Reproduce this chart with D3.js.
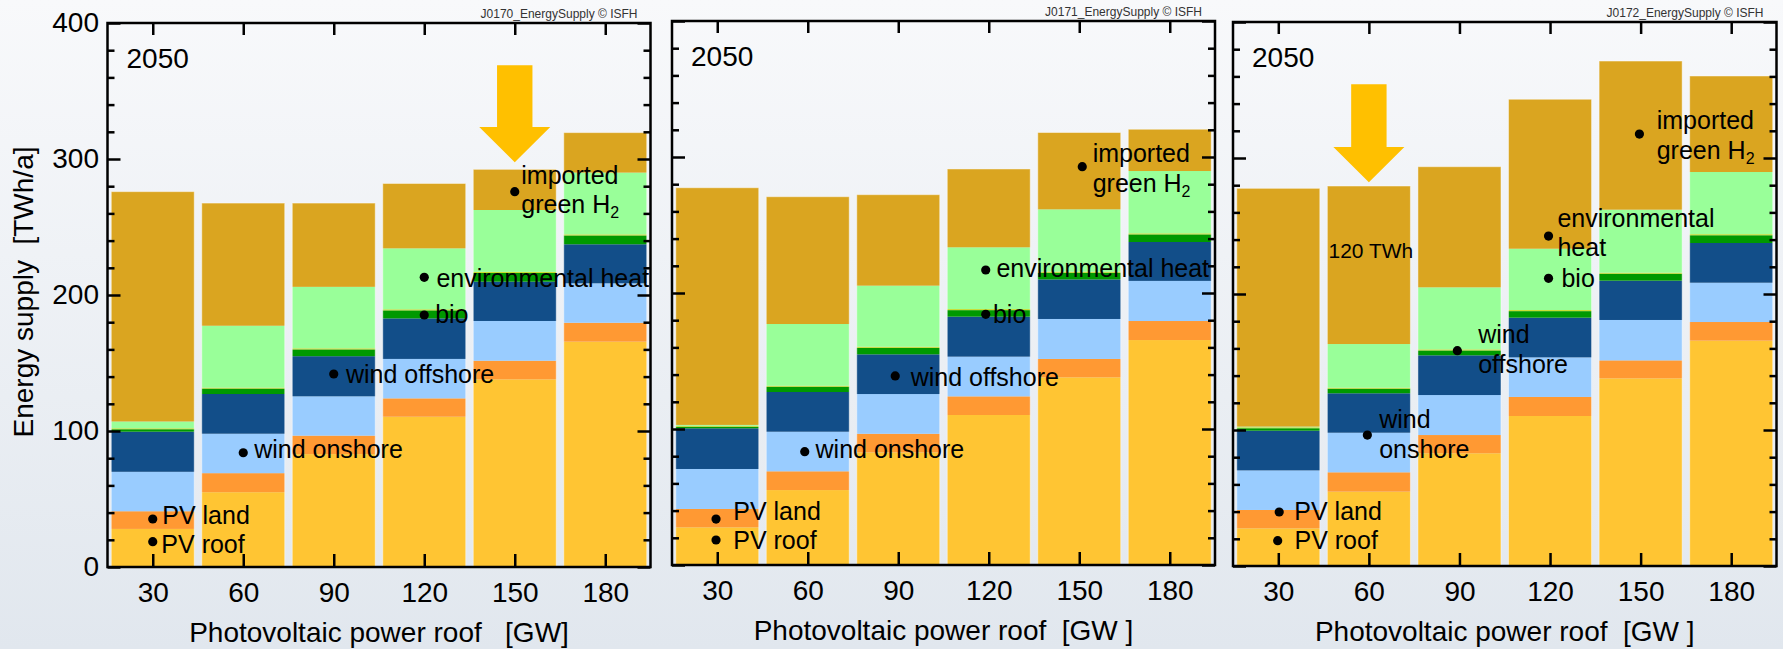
<!DOCTYPE html>
<html><head><meta charset="utf-8">
<script src="https://cdn.jsdelivr.net/npm/d3@7"></script>
<style>
html,body{margin:0;padding:0;background:#eef1f5;}
body{width:1783px;height:649px;overflow:hidden;}
svg text{font-family:"Liberation Sans",Arial,Helvetica,sans-serif;white-space:pre;}
</style></head><body>
<svg id="chart" width="1783" height="649"></svg>
<script>
// ---------------- data ----------------
const categories = [30, 60, 90, 120, 150, 180];          // PV power roof [GW]
const yMajorTicks = [0, 100, 200, 300, 400];
const yMinorTicks = d3.range(0, 401, 20);
const seriesKeys = ["pvRoof","pvLand","windOnshore","windOffshore","bio","otherRe","envHeat","importedH2"];
const seriesColors = ["#FFC533","#FF9933","#99CCFF","#124E89","#009900","#C8DC2C","#99FF99","#DAA520"];
const panelIds = ["J0170_EnergySupply \u00A9 ISFH","J0171_EnergySupply \u00A9 ISFH","J0172_EnergySupply \u00A9 ISFH"];
const yearLabel = "2050";
const xTitles = ["Photovoltaic power roof   [GW]","Photovoltaic power roof  [GW ]","Photovoltaic power roof  [GW ]"];
const yTitle = "Energy supply  [TWh/a]";

// values per panel (TWh/a), one inner array per panel, one value per category
const pvRoof      = [[28,55,83,110.5,138,165.7],[27.7,55.1,82.8,110.3,138,165.4],[27.7,54.7,82.9,110.3,138,165.7]];
const pvLand      = [[13,14,13.6,13.5,13.7,13.9],[13.5,13.8,13.7,13.7,13.5,14],[13.5,14.2,13.4,14,13.2,13.7]];
const windOnshore = [[29,29,28.9,29,29.2,29],[29.4,29.1,29.2,29.2,29.4,29.5],[29.1,29.1,29.4,29.1,29.7,28.9]];
const windOffshore= [[29.5,29.2,29.5,29.8,28.9,28.7],[29.9,29.2,29.2,29.4,29.1,28.6],[29.2,29,29.2,29.2,28.9,29.2]];
const bio         = [[1.8,4.0,5.0,5.9,6.4,6.5],[1.2,3.9,4.8,4.8,4.9,5.6],[1.8,3.4,3.6,4.8,5.1,5.7]];
const otherRe     = [[0.7,0.7,0.8,0.8,0.8,0.8],[0.7,0.7,0.8,0.8,0.8,0.8],[0.7,0.7,0.8,0.8,0.8,0.8]];
const envHeat     = [[5,45.5,45.2,44.8,45.5,45.4],[0.6,45.4,44.9,45.4,45.8,45.8],[0.5,32.1,45.6,45.1,46.3,45.7]];
const importedH2  = [[169,90.2,61.6,47.7,29.9,29.4],[174.4,93.6,66.9,57.6,56.5,30.7],[175.2,116.2,88.7,109.9,109.3,70.6]];

// annotation points (data coords) and label text
const labelsP1 = [
  {x:150, y:276,   lines:["imported","green H|2"]},
  {x:120, y:213,   lines:["environmental heat"]},
  {x:120, y:185.3, lines:["bio"]},
  {x:90,  y:141.9, lines:["wind offshore"]},
  {x:60,  y:84,    lines:["wind onshore"]},
  {x:30,  y:35.3,  lines:["PV land"]},
  {x:30,  y:18.6,  lines:["PV roof"]}
];
const labelsP2 = [
  {x:151, y:292.9, lines:["imported","green H|2"]},
  {x:119, y:216.9, lines:["environmental heat"]},
  {x:119, y:184.3, lines:["bio"]},
  {x:89,  y:139,   lines:["wind offshore"]},
  {x:59,  y:83.3,  lines:["wind onshore"]},
  {x:29.6,y:33.8,  lines:["PV land"]},
  {x:29.6,y:18.4,  lines:["PV roof"]}
];
const labelsP3 = [
  {x:149.6, y:317.6, lines:["imported","green H|2"]},
  {x:119.5, y:242.6, lines:["environmental","heat"]},
  {x:119.5, y:211.5, lines:["bio"]},
  {x:89.3,  y:158.3, lines:["wind","offshore"]},
  {x:59.5,  y:96.3,  lines:["wind","onshore"]},
  {x:30.3,  y:39.7,  lines:["PV land"]},
  {x:29.8,  y:18.6,  lines:["PV roof"]}
];
const noteP3 = {x:60, y:226.3, text:"120 TWh"};
// highlight arrows: category, tip value, tail value
const arrows = [{panel:0, x:150, tip:297.6, tail:369}, {panel:2, x:60, tip:282.1, tail:354.2}];

// ---------------- layout (pixels) ----------------
const panels = [
  {left:107.5, right:650.5, top:23, bottom:567},
  {left:672,   right:1215,  top:21, bottom:565},
  {left:1233,  right:1776.5,top:22, bottom:566}
];
// text offsets of labels relative to dots: [dx, dy of first baseline]
const labelOffsets = [
  [[6.5,-7.7],[12.2,9.4],[10.9,8],[12.2,8.7],[10.9,5.6],[9.5,5],[8.6,11]],
  [[10.4,-4.4],[10.7,6.7],[7.2,9],[15.4,10],[10.8,6],[17.2,1],[17.2,9.3]],
  [[17.3,-4.7],[8.9,-9.3],[12.9,9],[20.8,-7.4],[11.8,-6.7],[15.1,8],[16.8,8.6]]
];
const allLabels = [labelsP1, labelsP2, labelsP3];
const barHalf = 13.75;

// ---------------- drawing ----------------
const svg = d3.select("#chart");
const defs = svg.append("defs");
const grad = defs.append("linearGradient").attr("id","bg").attr("x1",0).attr("y1",0).attr("x2",0).attr("y2",1);
grad.append("stop").attr("offset","0%").attr("stop-color","#f8f9fb");
grad.append("stop").attr("offset","100%").attr("stop-color","#e1e7ee");
svg.append("rect").attr("width",1783).attr("height",649).attr("fill","url(#bg)");

const layerData = [pvRoof, pvLand, windOnshore, windOffshore, bio, otherRe, envHeat, importedH2];

panels.forEach((p, pi) => {
  const x = d3.scaleLinear().domain([15,195]).range([p.left, p.right]);
  const y = d3.scaleLinear().domain([0,400]).range([p.bottom, p.top]);
  const rows = categories.map((c,i) => {
    const r = {cat:c};
    seriesKeys.forEach((k,li) => r[k] = layerData[li][pi][i]);
    return r;
  });
  const stacked = d3.stack().keys(seriesKeys)(rows);
  const g = svg.append("g");

  g.selectAll("g.layer").data(stacked).join("g").attr("class","layer")
    .attr("fill",(d,i)=>seriesColors[i])
    .selectAll("rect").data(d=>d).join("rect")
    .attr("x", d => x(d.data.cat - barHalf))
    .attr("width", d => x(d.data.cat + barHalf) - x(d.data.cat - barHalf))
    .attr("y", d => y(d[1]))
    .attr("height", d => Math.max(0, y(d[0]) - y(d[1])));

  // thin light outline around each full bar
  g.selectAll("rect.outline").data(rows).join("rect").attr("class","outline")
    .attr("x", d => x(d.cat - barHalf))
    .attr("width", d => x(d.cat + barHalf) - x(d.cat - barHalf))
    .attr("y", d => y(d3.sum(seriesKeys, k => d[k])))
    .attr("height", d => y(0) - y(d3.sum(seriesKeys, k => d[k])))
    .attr("fill","none").attr("stroke","#ffffff").attr("stroke-opacity",0.45).attr("stroke-width",1);

  // axes (inward ticks)
  const styleAxis = sel => {
    sel.select(".domain").remove();
    sel.selectAll(".tick line").attr("stroke","#000").attr("stroke-width",2.5);
    sel.selectAll("text").attr("fill","#000").attr("font-size",28)
      .attr("font-family",'"Liberation Sans",Arial,sans-serif');
  };
  const leftMajor = d3.axisLeft(y).tickValues(yMajorTicks).tickSize(-13).tickPadding(8.5);
  if (pi !== 0) leftMajor.tickFormat("");
  g.append("g").attr("transform",`translate(${p.left},0)`).call(leftMajor).call(styleAxis)
    .selectAll("text").attr("x",-8.5);
  g.append("g").attr("transform",`translate(${p.left},0)`)
    .call(d3.axisLeft(y).tickValues(yMinorTicks.filter(v=>v%100)).tickSize(-7).tickFormat("")).call(styleAxis);
  g.append("g").attr("transform",`translate(${p.right},0)`)
    .call(d3.axisRight(y).tickValues(yMajorTicks).tickSize(-13).tickFormat("")).call(styleAxis);
  g.append("g").attr("transform",`translate(${p.right},0)`)
    .call(d3.axisRight(y).tickValues(yMinorTicks.filter(v=>v%100)).tickSize(-7).tickFormat("")).call(styleAxis);
  g.append("g").attr("transform",`translate(0,${p.top})`)
    .call(d3.axisTop(x).tickValues(categories).tickSize(-12).tickFormat("")).call(styleAxis);
  const bottom = g.append("g").attr("transform",`translate(0,${p.bottom})`)
    .call(d3.axisBottom(x).tickValues(categories).tickSize(-13).tickPadding(15)).call(styleAxis);
  bottom.selectAll("text").attr("y",34.7).attr("dy",null);

  // frame
  g.append("rect").attr("x",p.left).attr("y",p.top)
    .attr("width",p.right-p.left).attr("height",p.bottom-p.top)
    .attr("fill","none").attr("stroke","#000").attr("stroke-width",2.5);

  // x title
  g.append("text").attr("x",(p.left+p.right)/2).attr("y",p.bottom+74.5)
    .attr("text-anchor","middle").attr("font-size",28).attr("fill","#000").text(xTitles[pi]);
  // year
  g.append("text").attr("x",p.left+19).attr("y",p.top+45).attr("font-size",28).attr("fill","#000").text(yearLabel);
  // id
  g.append("text").attr("x",p.right-13).attr("y",p.top-5).attr("text-anchor","end")
    .attr("font-size",12).attr("fill","#333").text(panelIds[pi]);

  // annotations
  allLabels[pi].forEach((lb, li) => {
    const cx = x(lb.x), cy = y(lb.y);
    g.append("circle").attr("cx",cx).attr("cy",cy).attr("r",4.6).attr("fill","#000");
    const [dx, dy] = labelOffsets[pi][li];
    lb.lines.forEach((line, k) => {
      const t = g.append("text").attr("x",cx+dx).attr("y",cy+dy+k*29.4)
        .attr("font-size",25).attr("fill","#000");
      const parts = line.split("|");
      t.append("tspan").text(parts[0]);
      if (parts.length > 1) {
        t.append("tspan").attr("font-size",16).attr("dy",5).text(parts[1]);
      }
    });
  });
  if (pi === 2) {
    g.append("text").attr("x",x(noteP3.x)+2).attr("y",y(noteP3.y)).attr("text-anchor","middle")
      .attr("font-size",21).attr("fill","#000").text(noteP3.text);
  }

  // arrows
  arrows.filter(a => a.panel === pi).forEach(a => {
    const cx = x(a.x), ty = y(a.tip), tl = y(a.tail);
    const sw = 17.7, hw = 35.5, hh = 35.3;
    const pts = [[cx-sw,tl],[cx+sw,tl],[cx+sw,ty-hh],[cx+hw,ty-hh],[cx,ty],[cx-hw,ty-hh],[cx-sw,ty-hh]];
    g.append("path").attr("d", d3.line()(pts) + "Z").attr("fill","#FFC000");
  });
});

// y title
svg.append("text").attr("transform","translate(33,292) rotate(-90)").attr("text-anchor","middle")
  .attr("font-size",28).attr("fill","#000").text(yTitle);
</script>
</body></html>
